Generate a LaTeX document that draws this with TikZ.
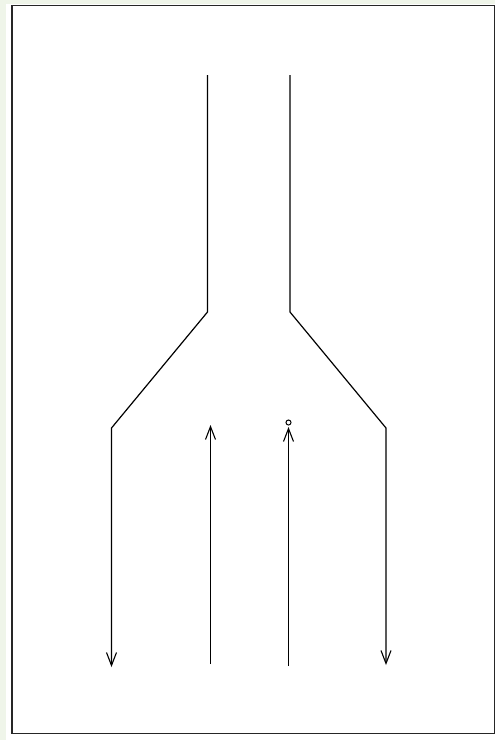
\documentclass[tikz,border=0pt]{standalone}
\usetikzlibrary{arrows.meta}
\definecolor{margin}{HTML}{EFF5E9}
\tikzset{
  wire/.style={line width=1.2pt, black},
  flow/.style={wire, -{Straight Barb[length=13pt,width=10pt,line width=1.1pt]}},
  dot/.style={circle, draw, line width=1pt, inner sep=0pt, minimum size=5pt}
}
\begin{document}
\begin{tikzpicture}[x=1pt,y=-1pt]
\useasboundingbox (0,0) rectangle (495,740);
\fill[margin] (0,0) rectangle (495,740);
\fill[white] (6,4) rectangle (495,740);
\draw[line width=1.5pt, black!85] (12,5.5) rectangle (494.5,733.5);
% left funnel wall
\coordinate (lt) at (207.5,75);
\coordinate (lk) at (207.5,312);
\coordinate (lb) at (111.5,428);
\coordinate (le) at (111.5,667);
% right funnel wall
\coordinate (rt) at (290,75);
\coordinate (rk) at (290,312);
\coordinate (rb) at (386,428);
\coordinate (re) at (386,665);
% upward streams
\coordinate (u1s) at (210.5,664);
\coordinate (u1e) at (210.5,425);
\coordinate (u2s) at (288.5,666);
\coordinate (u2e) at (288.5,427);
\node[dot] (c) at (288.5,422.5) {};
\draw[flow] (lt) -- (lk) -- (lb) -- (le);
\draw[flow] (rt) -- (rk) -- (rb) -- (re);
\draw[flow] (u1s) -- (u1e);
\draw[flow] (u2s) -- (u2e);
\end{tikzpicture}
\end{document}
